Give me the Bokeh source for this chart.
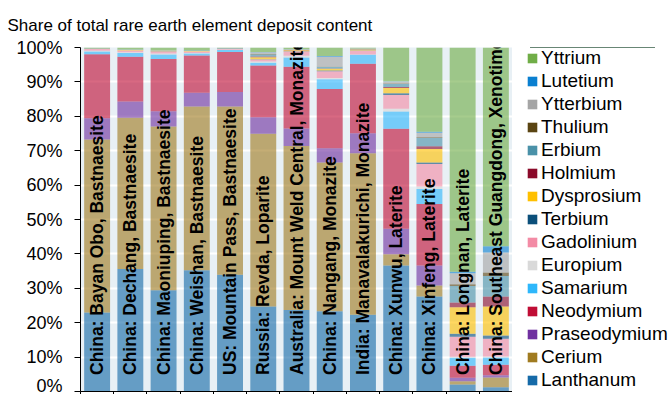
import numpy as np
from bokeh.plotting import figure
from bokeh.layouts import row
from bokeh.models import (Range1d, FixedTicker, PrintfTickFormatter, Legend, LegendItem,
                          ColumnDataSource)
from bokeh.embed import file_html
from bokeh.resources import INLINE
from bokeh.core.properties import value

deposits = [
    "China: Bayan Obo, Bastnaesite",
    "China: Dechang, Bastnaesite",
    "China: Maoniuping, Bastnaesite",
    "China: Weishan, Bastnaesite",
    "US: Mountain Pass, Bastnaesite",
    "Russia: Revda, Loparite",
    "Australia: Mount Weld Central, Monazite",
    "China: Nangang, Monazite",
    "India: Manavalakurichi, Monazite",
    "China: Xunwu, Laterite",
    "China: Xinfeng, Laterite",
    "China: Longnan, Laterite",
    "China: Southeast Guangdong, Xenotime",
]

elements = ["Lanthanum", "Cerium", "Praseodymium", "Neodymium", "Samarium", "Europium",
            "Gadolinium", "Terbium", "Dysprosium", "Holmium", "Erbium", "Thulium",
            "Ytterbium", "Lutetium", "Yttrium"]

colors = ["#156aa8", "#a07b20", "#7030a0", "#c00d35", "#2eb7fb", "#d9d9d9",
          "#f38ba5", "#0b4f7a", "#ffc000", "#8b0a2a", "#4a91a8", "#5a4412",
          "#a5a5a5", "#0a7fd0", "#70ad47"]

lanthanum    = [23.0, 35.6, 29.4, 35.2, 33.9, 24.7, 23.7, 23.3, 22.3, 36.6, 27.6, 2.0, 1.2]
cerium       = [50.3, 43.9, 47.6, 47.6, 48.9, 50.2, 47.7, 43.3, 47.0, 3.3, 3.2, 1.0, 2.9]
praseodymium = [6.2, 4.7, 4.4, 4.0, 4.2, 4.8, 5.1, 4.1, 5.8, 7.4, 5.8, 1.0, 0.6]
neodymium    = [18.6, 13.0, 15.2, 10.8, 11.6, 15.1, 18.0, 17.2, 20.2, 29.1, 17.9, 3.5, 3.1]
samarium     = [0.8, 1.1, 1.3, 0.6, 0.6, 0.8, 2.7, 2.9, 2.6, 5.0, 4.4, 2.3, 2.1]
europium     = [0.2, 0.2, 0.3, 0.15, 0.1, 0.3, 0.5, 0.3, 0.1, 0.8, 0.7, 0.3, 0.3]
gadolinium   = [0.5, 0.5, 0.6, 0.4, 0.3, 0.6, 1.2, 2.0, 1.1, 4.0, 6.5, 5.8, 5.1]
terbium      = [0.05, 0.05, 0.05, 0.05, 0.02, 0.1, 0.1, 0.2, 0.05, 0.5, 0.5, 0.9, 1.0]
dysprosium   = [0.1, 0.1, 0.15, 0.1, 0.05, 0.6, 0.3, 0.5, 0.3, 1.5, 3.9, 7.7, 8.4]
holmium      = [0.02, 0.02, 0.03, 0.02, 0.01, 0.2, 0.05, 0.1, 0.05, 0.3, 0.8, 1.4, 2.9]
erbium       = [0.03, 0.05, 0.05, 0.05, 0.02, 0.6, 0.1, 0.4, 0.1, 0.9, 2.4, 4.8, 6.0]
thulium      = [0.01, 0.01, 0.01, 0.01, 0.01, 0.1, 0.02, 0.1, 0.01, 0.1, 0.2, 0.5, 1.0]
ytterbium    = [0.02, 0.05, 0.05, 0.05, 0.02, 0.5, 0.1, 2.9, 0.1, 0.6, 1.3, 3.2, 5.8]
lutetium     = [0.01, 0.01, 0.01, 0.01, 0.01, 0.1, 0.02, 0.2, 0.01, 0.1, 0.3, 0.4, 1.8]
yttrium      = [0.2, 0.6, 0.8, 0.9, 0.2, 1.3, 0.5, 2.5, 0.3, 9.8, 24.5, 65.2, 57.8]

series = [lanthanum, cerium, praseodymium, neodymium, samarium, europium, gadolinium,
          terbium, dysprosium, holmium, erbium, thulium, ytterbium, lutetium, yttrium]

vals = np.array(series, dtype=float)
vals = vals / vals.sum(axis=0) * 100.0

n = len(deposits)
xpos = np.arange(n) + 0.5
data = {"x": xpos}
for name, r_ in zip(elements, vals):
    data[name] = r_
source = ColumnDataSource(data)

FONT = "Liberation Sans"

p = figure(frame_width=432, frame_height=344, output_backend="svg", toolbar_location=None,
           x_range=Range1d(0, n), y_range=Range1d(0, 100),
           min_border_left=80, min_border_right=0, min_border_top=46, min_border_bottom=4)

p.title.text = "Share of total rare earth element deposit content"
p.title.text_font = FONT
p.title.text_font_size = "17px"
p.title.text_font_style = "normal"
p.title.text_color = "#000000"
p.title.align = "left"
p.title.offset = -73
p.title.standoff = 26
p.title.vertical_align = "bottom"

p.background_fill_color = "#e8f0f5"
p.border_fill_color = "white"
p.outline_line_color = None

p.vbar_stack(elements, x="x", width=0.78, source=source, color=colors,
             fill_alpha=0.62, line_color=None)

# bar labels
p.text(x=xpos, y=[4.8] * n, text=deposits, angle=np.pi / 2,
       text_align="left", text_baseline="middle",
       text_font=value(FONT), text_font_size="17.5px", text_font_style="bold",
       text_color="#000000")

p.ygrid.grid_line_color = "white"
p.ygrid.grid_line_width = 2
p.ygrid.ticker = FixedTicker(ticks=list(range(0, 101, 10)))
p.xgrid.grid_line_color = None

p.yaxis.ticker = FixedTicker(ticks=list(range(0, 101, 10)))
p.yaxis.formatter = PrintfTickFormatter(format="%d%%")
p.yaxis.major_label_text_font = FONT
p.yaxis.major_label_text_font_size = "18px"
p.yaxis.major_label_text_color = "#000000"
p.yaxis.major_tick_out = 6
p.yaxis.major_tick_in = 0
p.yaxis.minor_tick_line_color = None
p.yaxis.major_label_standoff = 12
p.yaxis.axis_line_color = "#000000"
p.yaxis.major_tick_line_color = "#000000"

p.xaxis.ticker = FixedTicker(ticks=list(range(0, n + 1)))
p.xaxis.major_label_text_font_size = "0px"
p.xaxis.major_label_standoff = 0
p.xaxis.major_tick_out = 4
p.xaxis.major_tick_in = 0
p.xaxis.minor_tick_line_color = None
p.xaxis.axis_line_color = "#000000"
p.xaxis.major_tick_line_color = "#000000"

# legend holder: solid copies of the series, kept out of this panel's view range
pl = figure(width=160, height=394, output_backend="svg", toolbar_location=None,
            x_axis_type=None, y_axis_type=None, min_border=0,
            x_range=Range1d(0, 1), y_range=Range1d(-2, -1))
pl.outline_line_color = None
pl.background_fill_color = "white"
pl.border_fill_color = "white"
pl.xgrid.grid_line_color = None
pl.ygrid.grid_line_color = None

solid = pl.vbar_stack(elements, x="x", width=0.78, source=source, color=colors,
                      line_color=None)
items = [LegendItem(label=name, renderers=[r]) for name, r in zip(elements, solid)]
items = items[::-1]

legend = Legend(items=items, location=(14, -1), orientation="vertical",
                glyph_width=12, glyph_height=12, label_height=20, spacing=1,
                label_standoff=3, padding=0, margin=0,
                label_text_font=FONT, label_text_font_size="19px",
                label_text_color="#000000",
                border_line_color=None, background_fill_alpha=0)
pl.add_layout(legend, "center")

layout = row(p, pl, spacing=0)
open("out.html", "w").write(file_html(layout, INLINE))
